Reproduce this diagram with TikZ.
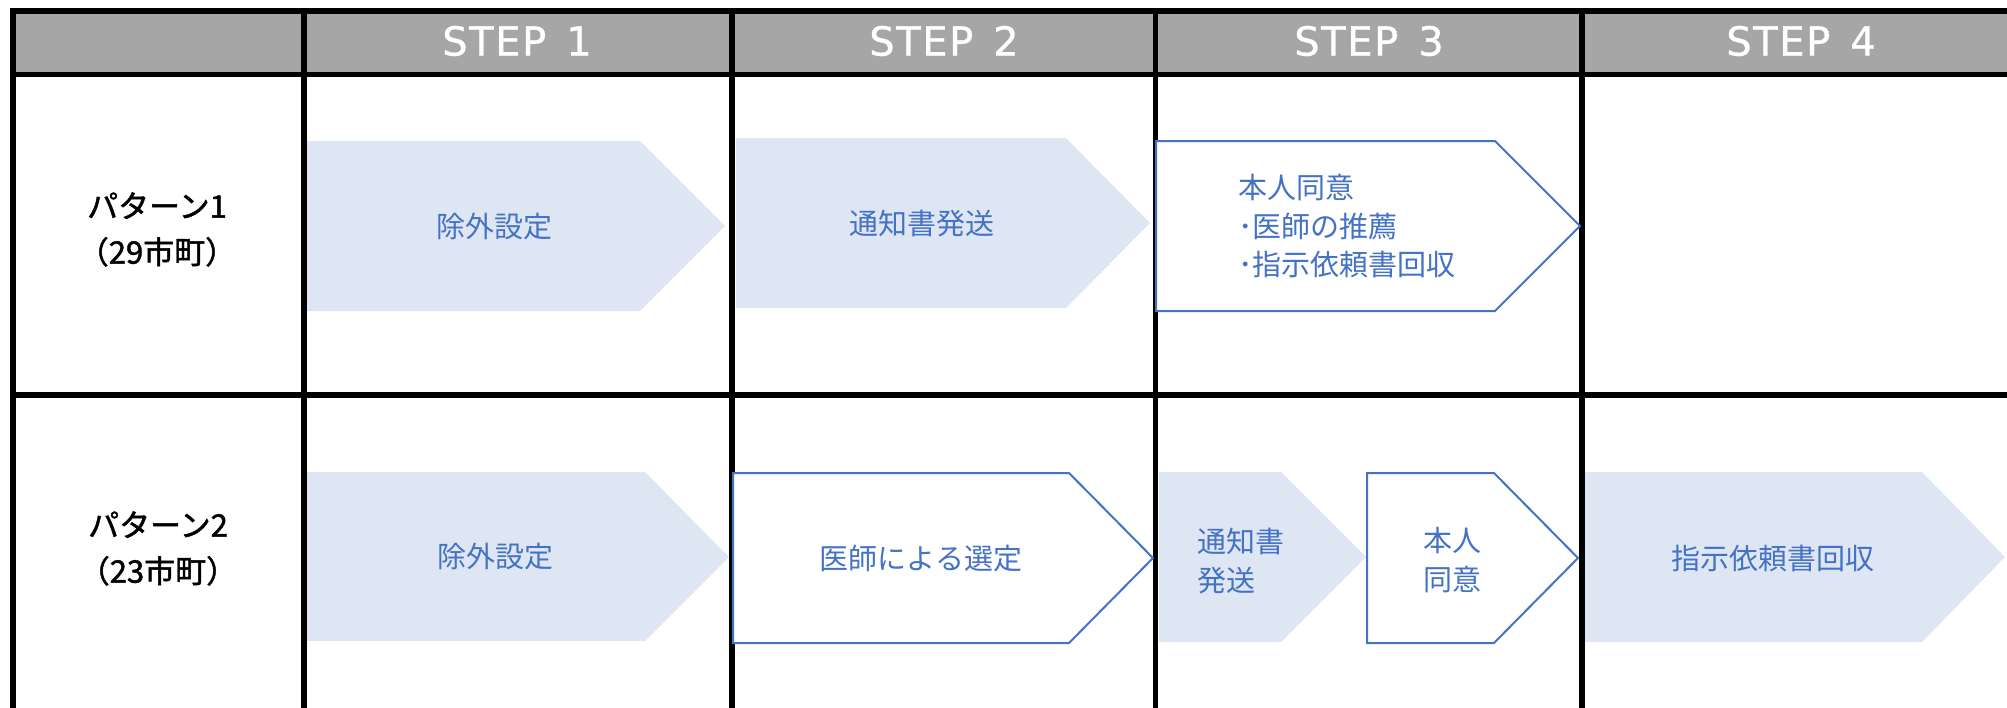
\documentclass[tikz,border=0pt]{standalone}
\usepackage{fontspec}
\setmainfont{Noto Sans CJK JP}
\newfontfamily\labelfont[FakeBold=1.5]{Noto Sans CJK JP}
\newfontfamily\headfont[LetterSpace=4,FakeBold=0.8]{DejaVu Sans}
\usepackage{tikz}
\definecolor{headgray}{HTML}{A6A6A6}
\definecolor{boxblue}{HTML}{4472C4}
\definecolor{boxfill}{HTML}{DFE6F3}

\begin{document}
\begin{tikzpicture}[x=1pt,y=-1pt,
    tablerule/.style={line width=5.5pt},
    filledbox/.style={fill=boxfill},
    openbox/.style={draw=boxblue,line width=2pt,fill=white},
    rowlabel/.style={font=\labelfont\fontsize{31}{46}\selectfont,align=center,inner sep=0pt},
    bluetext/.style={text=boxblue,font=\fontsize{29}{38.5}\selectfont,inner sep=0pt},
    headtext/.style={text=white,font=\headfont\fontsize{40}{48}\selectfont,inner sep=0pt}]
                \clip (0,0) rectangle (2007,707);
                \fill[headgray] (13,11) rectangle (2030,74.5);
                \draw[tablerule] (10,11) -- (2030,11);
                \draw[tablerule] (10,74.5) -- (2030,74.5);
                \draw[tablerule] (10,395) -- (2030,395);
                \draw[tablerule] (13,8) -- (13,720);
                \draw[tablerule] (304,8) -- (304,720);
                \draw[tablerule] (732,8) -- (732,720);
                \draw[tablerule] (1155.5,8) -- (1155.5,720);
                \draw[tablerule] (1582,8) -- (1582,720);
                \node[headtext](h1) at (517,41) {STEP\hspace{20pt}1};
                \node[headtext](h2) at (944,41) {STEP\hspace{20pt}2};
                \node[headtext](h3) at (1369,41) {STEP\hspace{20pt}3};
                \node[headtext](h4) at (1801,41) {STEP\hspace{20pt}4};
                \node[rowlabel](r1) at (157,229.5) {パターン1\\（29市町）};
                \node[rowlabel](r2) at (158,548.5) {パターン2\\（23市町）};
                \fill[filledbox] (307,141) -- (640,141) -- (725,226) -- (640,311) -- (307,311) -- cycle;
                \fill[filledbox] (736,138) -- (1066,138) -- (1150,223) -- (1066,308) -- (736,308) -- cycle;
                \draw[openbox] (1156,141) -- (1495,141) -- (1580,226) -- (1495,311) -- (1156,311) -- cycle;
                \fill[filledbox] (307,472) -- (645,472) -- (729,557) -- (645,641) -- (307,641) -- cycle;
                \draw[openbox] (733,473) -- (1069,473) -- (1153,558) -- (1069,643) -- (733,643) -- cycle;
                \fill[filledbox] (1159,472) -- (1281,472) -- (1366,557) -- (1281,642) -- (1159,642) -- cycle;
                \draw[openbox] (1367,473) -- (1494,473) -- (1578,558) -- (1494,643) -- (1367,643) -- cycle;
                \fill[filledbox] (1585,472) -- (1922,472) -- (2005,557) -- (1922,642) -- (1585,642) -- cycle;
                \node[bluetext](a1) at (494,227) {除外設定};
                \node[bluetext](a2) at (922,224) {通知書発送};
                \node[bluetext,align=left,anchor=west](a3) at (1238,226.5) {本人同意\\･医師の推薦\\･指示依頼書回収};
                \node[bluetext](b1) at (495,557) {除外設定};
                \node[bluetext](b2) at (921,559) {医師による選定};
                \node[bluetext,align=left,anchor=west](b3) at (1197,561) {通知書\\発送};
                \node[bluetext,align=center](b4) at (1452,560) {本人\\同意};
                \node[bluetext](b5) at (1773,558) {指示依頼書回収};
            \end{tikzpicture}
\end{document}
